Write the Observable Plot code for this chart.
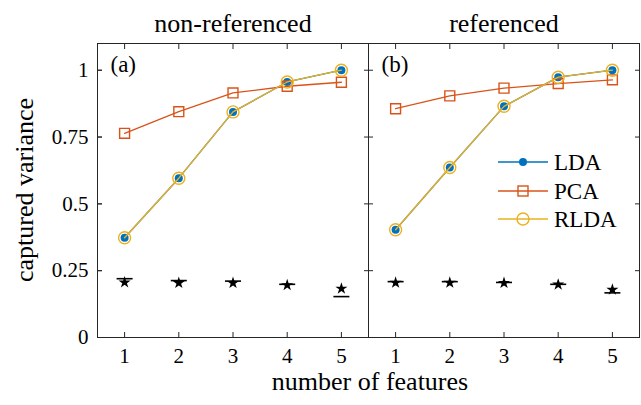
<!DOCTYPE html>
<html><head><meta charset="utf-8">
<script src="https://cdn.jsdelivr.net/npm/d3@7"></script>
<script src="https://cdn.jsdelivr.net/npm/@observablehq/plot@0.6"></script>
<style>
body{margin:0;background:#fff;font-family:"Liberation Serif","Times New Roman",Tinos,"DejaVu Serif",serif;}
#wrap{position:relative;width:641px;height:405px;overflow:hidden;}
.lbl{position:absolute;white-space:nowrap;color:#000;font-family:"Liberation Serif","Times New Roman",Tinos,"DejaVu Serif",serif;line-height:0.9;}
.leg{position:absolute;display:flex;align-items:center;height:24px;}
.leg span{font-size:23px;color:#000;margin-left:6px;line-height:1;font-family:"Liberation Serif","Times New Roman",Tinos,"DejaVu Serif",serif;}
</style></head><body><div id="wrap"></div>
<script>
const panels = ["non-referenced", "referenced"];
const panelTags = ["(a)", "(b)"];
const features = [1, 2, 3, 4, 5];
const xTicks = [1, 2, 3, 4, 5];
const yTicks = [0, 0.25, 0.5, 0.75, 1];
const seriesNames = ["LDA", "PCA", "RLDA"];
const seriesColors = ["#0072BD", "#D95319", "#EDB120"];

// panel (a) non-referenced
const ldaA  = [0.373, 0.596, 0.844, 0.956, 1.000];
const pcaA  = [0.764, 0.845, 0.915, 0.940, 0.955];
const rldaA = [0.373, 0.596, 0.844, 0.956, 1.000];
const starA = [0.206, 0.204, 0.204, 0.196, 0.183];
const dashA = [0.220, 0.213, 0.211, 0.199, 0.153];
// panel (b) referenced
const ldaB  = [0.403, 0.636, 0.865, 0.974, 1.000];
const pcaB  = [0.856, 0.904, 0.933, 0.950, 0.964];
const rldaB = [0.403, 0.636, 0.865, 0.974, 1.000];
const starB = [0.205, 0.205, 0.204, 0.198, 0.179];
const dashB = [0.209, 0.209, 0.206, 0.199, 0.167];

function rows(a, b) {
  return [
    ...features.map((f, i) => ({panel: panels[0], x: f, y: a[i]})),
    ...features.map((f, i) => ({panel: panels[1], x: f, y: b[i]}))
  ];
}
const lda = rows(ldaA, ldaB);
const pca = rows(pcaA, pcaB);
const rlda = rows(rldaA, rldaB);
const stars = rows(starA, starB);
const dashes = rows(dashA, dashB);
const tags = panels.map((p, i) => ({panel: p, tag: panelTags[i]}));

const hbar = {draw(ctx) { ctx.moveTo(-8, 0); ctx.lineTo(8, 0); }};
const lw = 1.3;
const serif = "'Liberation Serif', 'Times New Roman', Tinos, 'DejaVu Serif', serif";

const chart = Plot.plot({
  width: 641, height: 405,
  marginLeft: 96, marginRight: 2, marginTop: 43, marginBottom: 68,
  style: {fontFamily: serif, color: "#000", background: "#fff"},
  fx: {domain: panels, padding: 0},
  x: {domain: [0.5, 5.5]},
  y: {domain: [0, 1.1]},
  marks: [
    Plot.frame({stroke: "#262626", strokeWidth: 1}),
    Plot.axisFx({anchor: "top", tickSize: 0, tickPadding: 12, fontSize: 26, label: null}),
    Plot.axisX({anchor: "bottom", ticks: xTicks, tickSize: -5, tickPadding: 16, fontSize: 21, label: null, tickFormat: d => String(d), stroke: "#262626"}),
    Plot.axisX({anchor: "top", ticks: xTicks, tickSize: -5, tickFormat: () => "", label: null, stroke: "#262626"}),
    Plot.axisY({anchor: "left", ticks: yTicks, tickSize: -5, fontSize: 21, tickFormat: d => String(d), label: null, stroke: "#262626"}),
    Plot.axisY({anchor: "left", facetAnchor: null, ticks: yTicks, tickSize: -5, tickFormat: () => "", label: null, stroke: "#262626"}),
    Plot.axisY({anchor: "right", facetAnchor: null, ticks: yTicks, tickSize: -5, tickFormat: () => "", label: null, stroke: "#262626"}),
    Plot.text(tags, {fx: "panel", text: "tag", frameAnchor: "top-left", dx: 13, dy: 12, fontSize: 23, fill: "#000"}),
    Plot.line(lda, {fx: "panel", x: "x", y: "y", stroke: seriesColors[0], strokeWidth: lw}),
    Plot.dot(lda, {fx: "panel", x: "x", y: "y", r: 4, fill: seriesColors[0]}),
    Plot.line(pca, {fx: "panel", x: "x", y: "y", stroke: seriesColors[1], strokeWidth: lw}),
    Plot.dot(pca, {fx: "panel", x: "x", y: "y", symbol: "square", r: 5.6, stroke: seriesColors[1], strokeWidth: 1.4, fill: "none"}),
    Plot.line(rlda, {fx: "panel", x: "x", y: "y", stroke: seriesColors[2], strokeWidth: lw}),
    Plot.dot(rlda, {fx: "panel", x: "x", y: "y", r: 6, stroke: seriesColors[2], strokeWidth: 1.4, fill: "none"}),
    Plot.dot(stars, {fx: "panel", x: "x", y: "y", symbol: "star", r: 3.8, fill: "#000"}),
    Plot.dot(dashes, {fx: "panel", x: "x", y: "y", symbol: hbar, stroke: "#000", strokeWidth: 1.6, fill: "none"})
  ]
});
const wrap = document.getElementById("wrap");
wrap.appendChild(chart);

// axis titles
const yl = document.createElement("div");
yl.className = "lbl"; yl.textContent = "captured variance";
yl.style.cssText += "font-size:26px;left:25px;top:190px;transform:translate(-50%,-50%) rotate(-90deg);";
wrap.appendChild(yl);
const xl = document.createElement("div");
xl.className = "lbl"; xl.textContent = "number of features";
xl.style.cssText += "font-size:26px;left:370px;top:382px;transform:translate(-50%,-50%);";
wrap.appendChild(xl);

// legend
const legY = [162, 191, 219];
seriesNames.forEach((name, i) => {
  const d = document.createElement("div");
  d.className = "leg";
  d.style.left = "498px";
  d.style.top = (legY[i] - 12) + "px";
  const c = seriesColors[i];
  let marker;
  if (i === 0) marker = `<circle cx="25" cy="12" r="4" fill="${c}"/>`;
  else if (i === 1) marker = `<rect x="20" y="7" width="10" height="10" fill="none" stroke="${c}" stroke-width="1.4"/>`;
  else marker = `<circle cx="25" cy="12" r="6" fill="none" stroke="${c}" stroke-width="1.4"/>`;
  d.innerHTML = `<svg width="50" height="24"><line x1="0" x2="50" y1="12" y2="12" stroke="${c}" stroke-width="${lw}"/>${marker}</svg><span>${name}</span>`;
  wrap.appendChild(d);
});
</script></body></html>
